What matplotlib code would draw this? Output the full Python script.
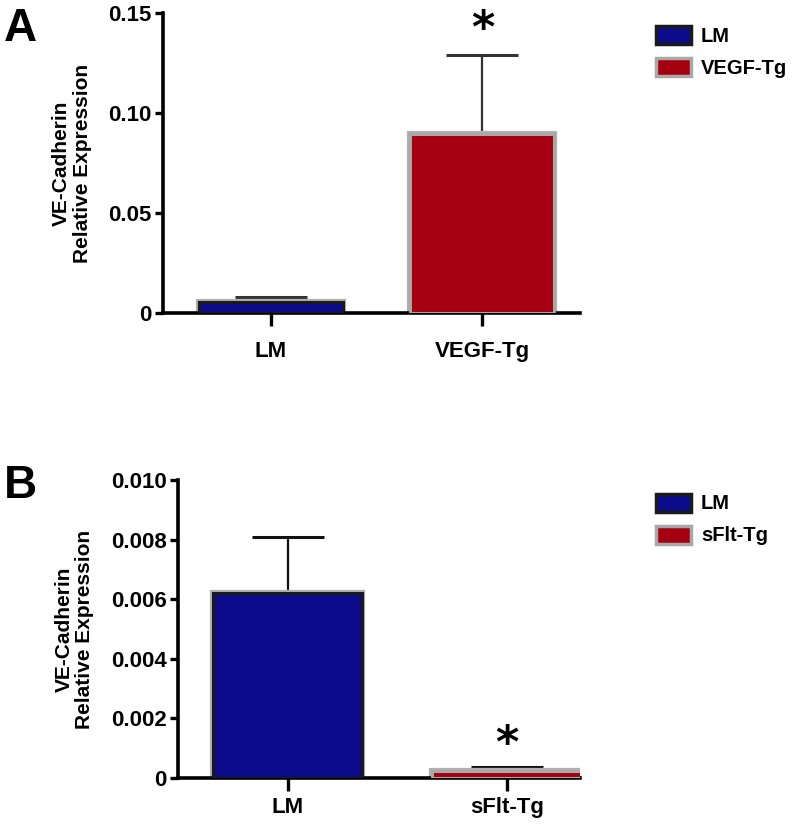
import matplotlib
matplotlib.use("Agg")
import matplotlib.pyplot as plt
from matplotlib.patches import Patch

plt.rcParams['font.family'] = ['Liberation Sans', 'DejaVu Sans']
plt.rcParams['font.weight'] = 'bold'

# data
groups_a = ['LM', 'VEGF-Tg']
means_a = [0.0057, 0.0895]
sem_a = [0.0023, 0.0395]

groups_b = ['LM', 'sFlt-Tg']
means_b = [0.0062, 0.00025]
sem_b = [0.0019, 0.00012]

yticks_a = [0, 0.05, 0.10, 0.15]
yticklabels_a = ['0', '0.05', '0.10', '0.15']
yticks_b = [0, 0.002, 0.004, 0.006, 0.008, 0.010]
yticklabels_b = ['0', '0.002', '0.004', '0.006', '0.008', '0.010']

blue = '#0b0b8c'
red = '#a5000f'

fig = plt.figure(figsize=(7.92, 8.24), dpi=100)
ax_a = fig.add_axes([0.2058, 0.6201, 0.526, 0.3641])
ax_b = fig.add_axes([0.2247, 0.0558, 0.507, 0.3617])


def draw_panel(ax, groups, means, sems, yticks, ylabels, xlim, ylim, star_y, err_color, xpad):
    x = list(range(len(groups)))
    # gray halo behind bars
    ax.bar(x, means, width=0.68, color='none', edgecolor='#b0b0b0', linewidth=4.5, zorder=2)
    ax.bar(x[0], means[0], width=0.68, color=blue, edgecolor='#1a1a1a', linewidth=2.2, zorder=3)
    ax.bar(x[1], means[1], width=0.68, color=red, edgecolor='#a8a8a8', linewidth=2.2, zorder=3)
    ax.errorbar(x, means, yerr=[[0] * len(sems), sems], fmt='none', ecolor=err_color,
                elinewidth=1.6, capsize=26, capthick=2.2, zorder=1)
    ax.text(1, star_y, '*', ha='center', va='center', fontsize=32, fontweight='bold',
            family='DejaVu Sans')
    ax.set_xlim(*xlim)
    ax.set_ylim(*ylim)
    ax.set_xticks(x)
    ax.set_xticklabels(groups, fontsize=16, fontweight='bold')
    ax.set_yticks(yticks)
    ax.set_yticklabels(ylabels, fontsize=16, fontweight='bold')
    ax.set_ylabel('VE-Cadherin\nRelative Expression', fontsize=15, fontweight='bold',
                  labelpad=12, linespacing=1.1)
    for s in ['top', 'right']:
        ax.spines[s].set_visible(False)
    for s in ['left', 'bottom']:
        ax.spines[s].set_linewidth(2.6)
    ax.tick_params(axis='y', direction='out', length=6, width=2.4, pad=2)
    ax.tick_params(axis='x', direction='out', length=9, width=2.4, pad=xpad)
    ax.set_clip_on(False)


draw_panel(ax_a, groups_a, means_a, sem_a, yticks_a, yticklabels_a,
           (-0.51, 1.46), (0, 0.15), 0.142, '#333333', 11)
draw_panel(ax_b, groups_b, means_b, sem_b, yticks_b, yticklabels_b,
           (-0.5, 1.33), (0, 0.010), 0.00112, '#111111', 5)

# legends
for ax, names, y in [(ax_a, groups_a, 0.99), (ax_b, groups_b, 0.423)]:
    handles = [Patch(facecolor=blue, edgecolor='#1a1a1a', linewidth=2.5),
               Patch(facecolor=red, edgecolor='#a8a8a8', linewidth=2.5)]
    fig.legend(handles, names, loc='upper left', bbox_to_anchor=(0.805, y),
               frameon=False, prop={'size': 14.5, 'weight': 'bold'},
               handlelength=1.75, handleheight=1.0, labelspacing=0.6, handletextpad=0.5)

fig.text(0.005, 0.992, 'A', fontsize=33, fontweight='bold', va='top', ha='left')
fig.text(0.005, 0.437, 'B', fontsize=33, fontweight='bold', va='top', ha='left')

fig.savefig('out.png', dpi=100, facecolor='white')
